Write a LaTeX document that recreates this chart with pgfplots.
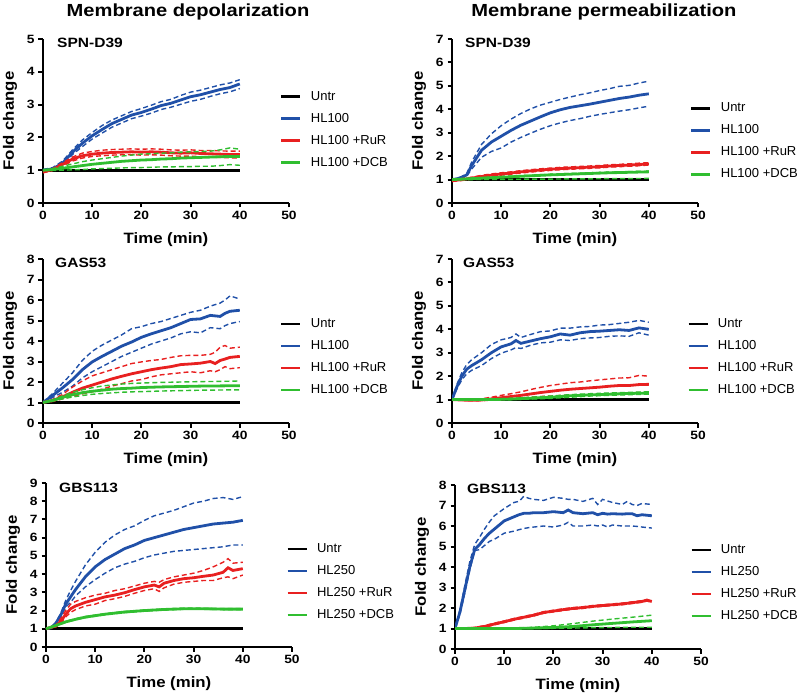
\documentclass[border=0pt]{standalone}
\usepackage{pgfplots}
\pgfplotsset{compat=1.18}
\usepackage{pgfplotstable}
\usepackage{fontspec}
\setmainfont{Liberation Sans}

\definecolor{cblue}{RGB}{32,80,168}
\definecolor{cred}{RGB}{232,32,32}
\definecolor{cgreen}{RGB}{48,190,48}

\newcommand\ticksz{\fontsize{12}{13}\selectfont\bfseries}
\newcommand\labsz{\fontsize{15}{17}\selectfont\bfseries}
\newcommand\legsz{\fontsize{13}{14}\selectfont}

% x = time, m = mean, u / l = upper / lower dashed line
\pgfplotstableread{
x m u l
0 1.00 1.02 0.98
2 1.04 1.08 1.00
4 1.22 1.28 1.16
6 1.55 1.62 1.48
8 1.82 1.92 1.72
10 2.05 2.15 1.95
12 2.24 2.36 2.13
14 2.42 2.53 2.31
16 2.55 2.66 2.44
18 2.68 2.79 2.57
20 2.76 2.88 2.65
22 2.86 2.98 2.74
24 2.97 3.09 2.85
26 3.04 3.16 2.92
28 3.14 3.28 3.01
30 3.24 3.38 3.10
32 3.30 3.44 3.16
34 3.38 3.52 3.25
36 3.46 3.60 3.33
38 3.52 3.66 3.39
40 3.63 3.76 3.49
}\Ablue
\pgfplotstableread{
x m u l
0 0.95 0.98 0.92
2 1.02 1.05 0.99
4 1.18 1.23 1.13
6 1.34 1.40 1.28
8 1.44 1.52 1.37
10 1.49 1.57 1.42
12 1.52 1.61 1.44
14 1.54 1.63 1.46
16 1.55 1.64 1.47
18 1.56 1.65 1.47
20 1.55 1.64 1.46
22 1.56 1.65 1.47
24 1.55 1.64 1.46
26 1.53 1.62 1.44
28 1.52 1.61 1.43
30 1.53 1.62 1.43
32 1.51 1.60 1.41
34 1.50 1.60 1.40
36 1.49 1.59 1.39
38 1.48 1.58 1.38
40 1.48 1.58 1.37
}\Ared
\pgfplotstableread{
x m u l
0 1.00 1.00 1.00
2 1.02 1.05 0.99
4 1.06 1.12 1.00
6 1.10 1.19 1.01
8 1.14 1.26 1.02
10 1.18 1.31 1.04
12 1.21 1.35 1.05
14 1.24 1.39 1.06
16 1.27 1.43 1.07
18 1.29 1.46 1.08
20 1.31 1.49 1.08
22 1.32 1.50 1.09
24 1.34 1.52 1.10
26 1.35 1.53 1.10
28 1.37 1.55 1.11
30 1.38 1.56 1.11
32 1.39 1.57 1.12
34 1.40 1.58 1.12
36 1.41 1.62 1.14
38 1.42 1.68 1.17
40 1.42 1.64 1.15
}\Agreen

\pgfplotstableread{
x m u l
0 1.00 1.02 0.98
1 1.03 1.05 1.01
2 1.10 1.13 1.07
3 1.20 1.25 1.15
4 1.60 1.75 1.45
6 2.25 2.50 1.95
8 2.60 2.95 2.20
10 2.85 3.30 2.35
12 3.10 3.58 2.60
14 3.32 3.82 2.80
16 3.50 4.02 2.98
18 3.68 4.18 3.15
20 3.85 4.30 3.30
22 3.98 4.42 3.42
24 4.08 4.52 3.52
26 4.15 4.62 3.60
28 4.22 4.70 3.70
30 4.30 4.80 3.78
32 4.38 4.88 3.85
34 4.46 4.98 3.92
36 4.52 5.02 3.98
38 4.60 5.12 4.06
40 4.66 5.20 4.13
}\Bblue
\pgfplotstableread{
x m u l
0 0.95 0.98 0.92
2 1.00 1.04 0.96
4 1.06 1.10 1.02
6 1.13 1.18 1.08
8 1.19 1.24 1.14
10 1.24 1.29 1.19
12 1.28 1.33 1.23
14 1.33 1.38 1.28
16 1.37 1.42 1.32
18 1.41 1.46 1.36
20 1.44 1.49 1.39
22 1.47 1.52 1.42
24 1.49 1.54 1.44
26 1.51 1.56 1.46
28 1.53 1.58 1.48
30 1.55 1.60 1.50
32 1.58 1.63 1.53
34 1.60 1.65 1.55
36 1.62 1.67 1.57
38 1.64 1.70 1.59
40 1.67 1.72 1.62
}\Bred
\pgfplotstableread{
x m u l
0 1.00 1.00 1.00
4 1.04 1.06 1.00
8 1.08 1.11 1.01
12 1.12 1.15 1.01
16 1.16 1.19 1.02
20 1.20 1.23 1.02
24 1.23 1.26 1.03
28 1.26 1.29 1.03
32 1.29 1.32 1.04
36 1.31 1.34 1.04
40 1.33 1.36 1.05
}\Bgreen

\pgfplotstableread{
x m u l
0 1.00 1.00 1.00
2 1.35 1.45 1.25
4 1.72 1.95 1.50
6 2.12 2.45 1.80
8 2.60 3.05 2.20
10 2.98 3.50 2.50
12 3.25 3.80 2.75
14 3.50 4.05 3.00
16 3.75 4.30 3.25
18 3.95 4.60 3.45
20 4.18 4.70 3.65
22 4.35 4.85 3.85
24 4.50 4.95 4.00
26 4.65 5.10 4.15
28 4.85 5.25 4.35
30 5.05 5.40 4.45
32 5.08 5.50 4.40
34 5.25 5.70 4.65
36 5.20 5.85 4.60
37 5.35 6.00 4.75
38 5.45 6.20 4.85
40 5.50 6.05 4.95
}\Cblue
\pgfplotstableread{
x m u l
0 1.00 1.00 1.00
2 1.10 1.15 1.05
4 1.28 1.40 1.18
6 1.50 1.75 1.30
8 1.70 2.05 1.42
10 1.85 2.30 1.52
12 2.00 2.45 1.65
14 2.15 2.60 1.80
16 2.28 2.75 1.92
18 2.40 2.90 2.05
20 2.50 2.98 2.12
22 2.60 3.05 2.25
24 2.68 3.10 2.35
26 2.75 3.20 2.40
28 2.85 3.28 2.45
30 2.88 3.30 2.50
32 2.92 3.30 2.45
34 3.00 3.35 2.55
35 2.90 3.45 2.50
36 3.05 3.70 2.60
37 3.12 3.78 2.75
38 3.20 3.65 2.65
40 3.25 3.70 2.70
}\Cred
\pgfplotstableread{
x m u l
0 1.00 1.00 1.00
2 1.10 1.12 1.08
4 1.25 1.32 1.18
6 1.38 1.50 1.27
8 1.48 1.62 1.34
10 1.55 1.72 1.40
12 1.60 1.80 1.44
14 1.65 1.86 1.47
16 1.68 1.90 1.50
18 1.70 1.93 1.52
20 1.73 1.95 1.53
24 1.76 1.98 1.56
28 1.78 2.00 1.58
32 1.80 2.02 1.60
36 1.81 2.03 1.61
40 1.82 2.05 1.62
}\Cgreen

\pgfplotstableread{
x m u l
0 1.00 1.00 1.00
1 1.55 1.65 1.45
2 2.00 2.15 1.85
3 2.30 2.50 2.10
4 2.45 2.70 2.25
6 2.70 3.00 2.45
8 3.00 3.35 2.75
10 3.25 3.55 2.98
12 3.38 3.65 3.12
13 3.52 3.80 3.22
14 3.40 3.65 3.18
16 3.50 3.78 3.32
18 3.60 3.90 3.42
20 3.68 3.93 3.45
22 3.80 4.05 3.55
24 3.75 4.05 3.52
26 3.85 4.10 3.60
28 3.90 4.12 3.63
30 3.92 4.18 3.65
32 3.95 4.20 3.70
34 3.98 4.25 3.72
36 3.95 4.30 3.70
38 4.06 4.38 3.85
40 4.00 4.30 3.75
}\Dblue
\pgfplotstableread{
x m u l
0 1.00 1.00 1.00
2 0.98 0.99 0.97
4 0.97 1.00 0.95
6 0.98 1.03 0.95
8 1.03 1.10 0.98
10 1.08 1.18 1.00
12 1.13 1.25 1.03
14 1.18 1.33 1.06
16 1.24 1.43 1.10
18 1.30 1.52 1.13
20 1.35 1.60 1.15
22 1.40 1.66 1.17
24 1.44 1.72 1.19
26 1.47 1.75 1.20
28 1.50 1.80 1.22
30 1.53 1.84 1.24
32 1.57 1.88 1.25
34 1.60 1.92 1.27
36 1.60 1.93 1.28
38 1.64 2.03 1.30
40 1.65 2.00 1.30
}\Dred
\pgfplotstableread{
x m u l
0 1.00 1.00 1.00
4 1.00 1.01 0.99
8 1.00 1.02 0.99
12 1.02 1.05 1.00
16 1.06 1.10 1.02
20 1.10 1.15 1.05
24 1.16 1.21 1.10
28 1.20 1.25 1.15
32 1.23 1.28 1.18
36 1.26 1.31 1.21
40 1.28 1.33 1.23
}\Dgreen

\pgfplotstableread{
x m u l
0 1.00 1.00 1.00
1 1.05 1.07 1.03
2 1.30 1.35 1.25
3 1.75 1.85 1.65
4 2.35 2.55 2.20
5 2.75 3.10 2.45
6 3.15 3.60 2.80
8 3.85 4.50 3.30
10 4.40 5.20 3.70
12 4.80 5.75 4.05
14 5.10 6.15 4.35
16 5.40 6.45 4.55
18 5.60 6.65 4.70
20 5.85 6.95 4.90
22 6.00 7.20 5.05
24 6.15 7.35 5.15
26 6.30 7.50 5.25
28 6.45 7.70 5.30
30 6.55 7.90 5.35
32 6.65 8.00 5.40
34 6.75 8.15 5.45
36 6.80 8.20 5.50
38 6.85 8.10 5.60
40 6.95 8.25 5.60
}\Eblue
\pgfplotstableread{
x m u l
0 1.00 1.00 1.00
2 1.15 1.20 1.10
3 1.40 1.55 1.30
4 1.80 2.00 1.65
5 2.10 2.35 1.90
6 2.25 2.50 2.05
8 2.45 2.70 2.25
10 2.60 2.85 2.35
12 2.75 2.95 2.55
14 2.85 3.10 2.65
16 2.98 3.20 2.78
18 3.15 3.35 2.95
20 3.30 3.50 3.10
22 3.40 3.60 3.20
23 3.30 3.55 3.05
24 3.50 3.70 3.25
26 3.65 3.85 3.45
28 3.75 3.95 3.55
30 3.80 4.05 3.60
32 3.88 4.20 3.65
34 3.95 4.40 3.65
36 4.10 4.65 3.80
37 4.35 4.85 3.85
38 4.20 4.60 3.75
40 4.30 4.65 3.95
}\Ered
\pgfplotstableread{
x m u l
0 1.00 1.00 1.00
2 1.18 1.20 1.16
4 1.38 1.41 1.35
6 1.52 1.55 1.49
8 1.64 1.67 1.61
10 1.72 1.75 1.69
12 1.80 1.83 1.77
14 1.86 1.89 1.83
16 1.92 1.95 1.89
18 1.96 1.99 1.93
20 2.00 2.03 1.97
22 2.03 2.06 2.00
24 2.06 2.09 2.03
26 2.08 2.11 2.05
28 2.10 2.13 2.07
30 2.10 2.13 2.07
32 2.10 2.13 2.07
34 2.09 2.12 2.06
36 2.08 2.11 2.05
38 2.08 2.11 2.05
40 2.08 2.11 2.05
}\Egreen

\pgfplotstableread{
x m u l
0 1.00 1.00 1.00
1 1.80 1.90 1.70
2 2.90 3.10 2.75
3 4.00 4.25 3.85
4 4.85 5.10 4.80
5 5.10 5.45 4.85
6 5.40 5.85 5.05
7 5.65 6.20 5.25
8 5.85 6.50 5.35
10 6.25 6.85 5.65
12 6.45 7.15 5.75
13 6.55 7.20 5.82
14 6.62 7.45 5.88
15 6.62 7.35 5.92
16 6.65 7.30 5.95
18 6.65 7.25 6.00
20 6.70 7.40 5.95
22 6.65 7.35 6.05
23 6.78 7.30 6.18
24 6.65 7.30 6.00
26 6.60 7.20 6.00
28 6.65 7.35 6.05
29 6.55 7.05 6.00
30 6.62 7.30 6.05
31 6.58 7.22 5.95
32 6.60 7.15 6.05
34 6.58 7.05 6.00
35 6.60 7.20 6.00
36 6.60 7.05 6.00
37 6.50 7.00 5.98
38 6.55 7.10 5.95
40 6.50 7.05 5.90
}\Fblue
\pgfplotstableread{
x m u l
0 1.00 1.02 0.98
2 1.00 1.02 0.98
4 1.02 1.05 0.99
6 1.10 1.14 1.06
8 1.22 1.26 1.18
10 1.33 1.37 1.29
12 1.45 1.49 1.41
14 1.55 1.59 1.51
16 1.65 1.69 1.61
18 1.78 1.82 1.74
20 1.85 1.89 1.81
22 1.92 1.96 1.88
24 1.98 2.02 1.94
26 2.02 2.06 1.98
28 2.08 2.12 2.04
30 2.12 2.16 2.08
32 2.16 2.20 2.12
34 2.20 2.24 2.16
36 2.26 2.30 2.22
38 2.32 2.36 2.28
39 2.38 2.42 2.34
40 2.32 2.36 2.28
}\Fred
\pgfplotstableread{
x m u l
0 1.00 1.00 1.00
4 1.00 1.00 1.00
8 1.00 1.00 1.00
12 1.00 1.02 1.00
16 1.02 1.06 1.00
20 1.05 1.13 1.01
24 1.10 1.24 1.02
28 1.18 1.36 1.04
32 1.25 1.46 1.05
36 1.32 1.55 1.06
40 1.38 1.65 1.06
}\Fgreen

\pgfplotsset{
  mean/.style={line width=2.8pt},
  band/.style={line width=1.4pt, dash pattern=on 5pt off 3pt},
  panel/.style={
    scale only axis, width=246pt, height=164pt,
    xmin=0, xmax=50, ymin=0,
    axis x line*=bottom, axis y line*=left,
    axis line style={line width=2pt},
    xtick={0,10,...,50}, ytick distance=1,
    tick align=outside, major tick length=4.5pt,
    every tick/.style={line width=2pt, black},
    /pgf/number format/assume math mode=true,
    tick label style={font=\ticksz, xscale=1.15},
    xlabel={Time (min)}, ylabel={Fold change},
    label style={font=\labsz, xscale=1.12},
    xlabel style={at={(axis description cs:0.5,-0.226)}, anchor=center},
    ylabel style={at={(axis description cs:-0.134,0.5)}, anchor=center},
    legend cell align=left,
    legend image code/.code={\draw[##1] (0pt,0pt) -- (19pt,0pt);},
    legend style={draw=none, fill=none, inner sep=0pt, font=\legsz,
      row sep=9.5pt, column sep=9pt,
      nodes={inner sep=0pt, text height=10pt, text depth=2.5pt}},
  },
}
\newcommand\trio[2]{%
  \addplot[#1, band, forget plot] table[x=x, y=u] {#2};
  \addplot[#1, band, forget plot] table[x=x, y=l] {#2};
  \addplot[#1, mean] table[x=x, y=m] {#2};
}
\newcommand\untr{\addplot[black, mean] coordinates {(0,1) (40,1)};}

\begin{document}
\begin{tikzpicture}[x=1pt, y=1pt]
\useasboundingbox (0,0) rectangle (800,697);

\node[anchor=base, font=\fontsize{17.5}{19}\selectfont\bfseries, xscale=1.15] at (188,680) {Membrane depolarization};
\node[anchor=base, font=\fontsize{17.5}{19}\selectfont\bfseries, xscale=1.15] at (604,680) {Membrane permeabilization};

% row 1
\begin{axis}[panel, at={(43pt,494pt)}, anchor=south west, ymax=5,
  legend style={at={(0.963,0.448)}, anchor=west}]
\untr
\trio{cblue}{\Ablue}
\trio{cred}{\Ared}
\trio{cgreen}{\Agreen}
\legend{Untr, HL100, HL100 +RuR, HL100 +DCB}
\end{axis}
\begin{axis}[panel, at={(452pt,494pt)}, anchor=south west, ymax=7,
  legend style={at={(0.967,0.377)}, anchor=west}]
\untr
\trio{cblue}{\Bblue}
\trio{cred}{\Bred}
\trio{cgreen}{\Bgreen}
\legend{Untr, HL100, HL100 +RuR, HL100 +DCB}
\end{axis}

% row 2
\begin{axis}[panel, at={(43pt,274pt)}, anchor=south west, ymax=8,
  legend style={at={(0.963,0.402)}, anchor=west}]
\untr
\trio{cblue}{\Cblue}
\trio{cred}{\Cred}
\trio{cgreen}{\Cgreen}
\legend{Untr, HL100, HL100 +RuR, HL100 +DCB}
\end{axis}
\begin{axis}[panel, at={(452pt,274pt)}, anchor=south west, ymax=7,
  legend style={at={(0.955,0.402)}, anchor=west}]
\untr
\trio{cblue}{\Dblue}
\trio{cred}{\Dred}
\trio{cgreen}{\Dgreen}
\legend{Untr, HL100, HL100 +RuR, HL100 +DCB}
\end{axis}

% row 3
\begin{axis}[panel, at={(46pt,50pt)}, anchor=south west, ymax=9,
  legend style={at={(0.976,0.396)}, anchor=west}]
\untr
\trio{cblue}{\Eblue}
\trio{cred}{\Ered}
\trio{cgreen}{\Egreen}
\legend{Untr, HL250, HL250 +RuR, HL250 +DCB}
\end{axis}
\begin{axis}[panel, at={(455pt,48pt)}, anchor=south west, ymax=8,
  legend style={at={(0.955,0.403)}, anchor=west}]
\untr
\trio{cblue}{\Fblue}
\trio{cred}{\Fred}
\trio{cgreen}{\Fgreen}
\legend{Untr, HL250, HL250 +RuR, HL250 +DCB}
\end{axis}

% strain labels
\begin{scope}[every node/.style={anchor=base west, font=\fontsize{13.5}{15}\selectfont\bfseries, xscale=1.15, inner sep=0pt}]
\node at (57,649) {SPN-D39};
\node at (465,649) {SPN-D39};
\node at (55,429) {GAS53};
\node at (463,429) {GAS53};
\node at (59,205) {GBS113};
\node at (467,204) {GBS113};
\end{scope}
\end{tikzpicture}
\end{document}
